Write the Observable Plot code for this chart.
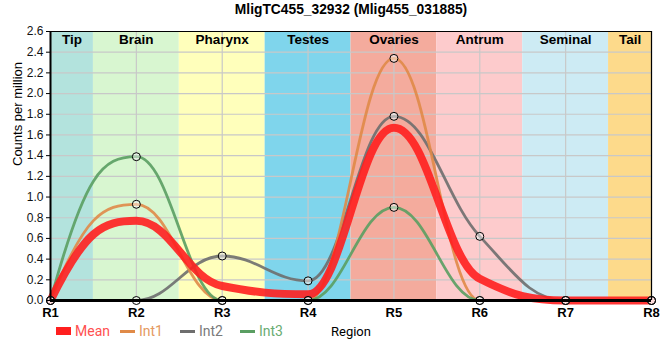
<!DOCTYPE html>
<html><head><meta charset="utf-8">
<script src="https://cdn.jsdelivr.net/npm/d3@7"></script>
<script src="https://cdn.jsdelivr.net/npm/@observablehq/plot@0.6"></script>
<style>
body{margin:0;background:#fff;font-family:"Liberation Sans",Arial,sans-serif;}
#wrap{position:relative;width:660px;height:360px;}
.item{position:absolute;top:323px;height:16px;display:flex;align-items:center;font-family:Roboto,"Liberation Sans",sans-serif;font-size:14px;white-space:nowrap;}
.sw{display:inline-block;width:15px;margin-right:4px;}
</style></head>
<body><div id="wrap"></div>
<script>
const regions = ["R1","R2","R3","R4","R5","R6","R7","R8"];
const tissues = ["Tip","Brain","Pharynx","Testes","Ovaries","Antrum","Seminal","Tail"];
const tissueColors = ["#b3e3dd","#d8f6d0","#ffffbb","#7fd5ec","#f4ab9d","#fdcbcc","#cdebf4","#fdda8b"];
const meanVals = [0, 0.77, 0.14, 0.06, 1.67, 0.21, 0, 0];
const int1Vals = [0, 0.93, 0, 0, 2.34, 0, 0, 0];
const int2Vals = [0, 0, 0.43, 0.19, 1.78, 0.62, 0, 0];
const int3Vals = [0, 1.39, 0, 0, 0.90, 0, 0, 0];
const seriesNames = ["Mean","Int1","Int2","Int3"];
const seriesColors = ["#ff1f1f","#e08a48","#6e6e6e","#5a9e62"];
const legendTextColors = ["#ff5050","#e59a60","#7a7a7a","#6aac72"];
const yTicks = [0,0.2,0.4,0.6,0.8,1.0,1.2,1.4,1.6,1.8,2.0,2.2,2.4,2.6];

// smooth curve: monotone tangents, Bezier handles at fraction a of each interval
function smoothCurve(a, endK) {
  return function(context) {
    let xs, ys;
    return {
      areaStart(){}, areaEnd(){},
      lineStart(){ xs = []; ys = []; },
      point(x, y){ xs.push(+x); ys.push(+y); },
      lineEnd(){
        const n = xs.length;
        if (!n) return;
        context.moveTo(xs[0], ys[0]);
        if (n === 1) return;
        if (n === 2) { context.lineTo(xs[1], ys[1]); return; }
        const s = [], m = new Array(n);
        for (let i = 0; i < n - 1; i++) s.push((ys[i+1] - ys[i]) / (xs[i+1] - xs[i]));
        for (let i = 1; i < n - 1; i++) {
          const h0 = xs[i] - xs[i-1], h1 = xs[i+1] - xs[i];
          const p = (s[i-1] * h1 + s[i] * h0) / (h0 + h1);
          m[i] = (Math.sign(s[i-1]) + Math.sign(s[i])) * Math.min(Math.abs(s[i-1]), Math.abs(s[i]), 0.5 * Math.abs(p)) || 0;
        }
        m[0] = endK * s[0] - (endK - 1) * m[1];
        m[n-1] = endK * s[n-2] - (endK - 1) * m[n-2];
        for (let i = 0; i < n - 1; i++) {
          const h = xs[i+1] - xs[i];
          const lo = Math.min(ys[i], ys[i+1]), hi = Math.max(ys[i], ys[i+1]);
          const c1y = Math.max(lo, Math.min(hi, ys[i] + a * h * m[i]));
          const c2y = Math.max(lo, Math.min(hi, ys[i+1] - a * h * m[i+1]));
          context.bezierCurveTo(xs[i] + a * h, c1y, xs[i+1] - a * h, c2y, xs[i+1], ys[i+1]);
        }
      }
    };
  };
}
const curve = smoothCurve(0.4, 2.2);

const n = regions.length;
const bands = tissues.map((t,i)=>({t, c: tissueColors[i], x1: Math.max(1, i+0.5), x2: Math.min(n, i+1.5)}));
const mk = vals => vals.map((v,i)=>({x:i+1, y:v}));
const series = [int1Vals,int2Vals,int3Vals].map(mk);
const meanData = mk(meanVals);

const plot = Plot.plot({
  width: 660, height: 360,
  marginLeft: 50, marginRight: 9, marginTop: 31, marginBottom: 60,
  style: {fontFamily: '"Liberation Sans",Arial,sans-serif', fontSize: "12px", background: "#fff"},
  x: {domain: [1, n], axis: null},
  y: {domain: [0, 2.6], axis: null},
  marks: [
    Plot.rect(bands, {x1: "x1", x2: "x2", y1: 0, y2: 2.6, fill: "c"}),
    Plot.gridY(yTicks, {stroke: "#c8c8c8", strokeOpacity: 1, strokeWidth: 1.2}),
    Plot.gridX(d3.range(1, n+1), {stroke: "#c8c8c8", strokeOpacity: 1, strokeWidth: 1.2}),
    Plot.text(bands, {x: d => (d.x1+d.x2)/2, y: 2.6, text: "t", dy: 8, fontWeight: "bold", fontSize: 13.5, fill: "#000"}),
    Plot.line(series[1], {x: "x", y: "y", curve, stroke: seriesColors[2], strokeWidth: 2.8, strokeOpacity: 0.9}),
    Plot.line(series[0], {x: "x", y: "y", curve, stroke: seriesColors[1], strokeWidth: 2.8, strokeOpacity: 0.9}),
    Plot.line(series[2], {x: "x", y: "y", curve, stroke: seriesColors[3], strokeWidth: 2.8, strokeOpacity: 0.9}),
    Plot.line(meanData, {x: "x", y: "y", curve, stroke: seriesColors[0], strokeWidth: 8, strokeOpacity: 0.9}),
    ...series.map(s => Plot.dot(s, {x: "x", y: "y", r: 4, stroke: "#000", strokeWidth: 1, fill: "#fff", fillOpacity: 0.45})),
    Plot.ruleY([0], {stroke: "#000", strokeWidth: 3}),
    Plot.ruleX([1], {stroke: "#000", strokeWidth: 2}),
    Plot.ruleY([2.6], {stroke: "#000", strokeWidth: 1}),
    Plot.ruleX([n], {stroke: "#000", strokeWidth: 1.2}),
    Plot.axisY(yTicks, {tickSize: 4, tickPadding: 3, tickFormat: d3.format(".1f"), fill: "#111", fontSize: 12, label: null, stroke: "#000"}),
    Plot.axisX(d3.range(1, n+1), {tickSize: 0, tickPadding: 7, tickFormat: d => regions[d-1], fontWeight: "bold", fontSize: 13, fill: "#000", label: null}),
    Plot.text(["MligTC455_32932 (Mlig455_031885)"], {frameAnchor: "top", lineAnchor: "middle", dy: -22, fontWeight: "bold", fontSize: 13.8, fill: "#000"}),
    Plot.text(["Counts per million"], {frameAnchor: "left", dx: -33, rotate: -90, fontSize: 13, fill: "#000"})
  ]
});
const wrap = document.getElementById("wrap");
wrap.appendChild(plot);
const legendLeft = [56, 120, 180, 240];
seriesNames.forEach((s,i)=>{
  const it = document.createElement("div"); it.className = "item";
  it.style.left = legendLeft[i] + "px";
  const sw = document.createElement("span"); sw.className = "sw";
  sw.style.height = i === 0 ? "8px" : "3px";
  sw.style.background = seriesColors[i];
  const tx = document.createElement("span"); tx.textContent = s; tx.style.color = legendTextColors[i];
  it.appendChild(sw); it.appendChild(tx); wrap.appendChild(it);
});
const rl = document.createElement("div"); rl.className = "item"; rl.textContent = "Region";
rl.style.left = "331px"; rl.style.color = "#000"; rl.style.fontSize = "13px";
wrap.appendChild(rl);
</script></body></html>
